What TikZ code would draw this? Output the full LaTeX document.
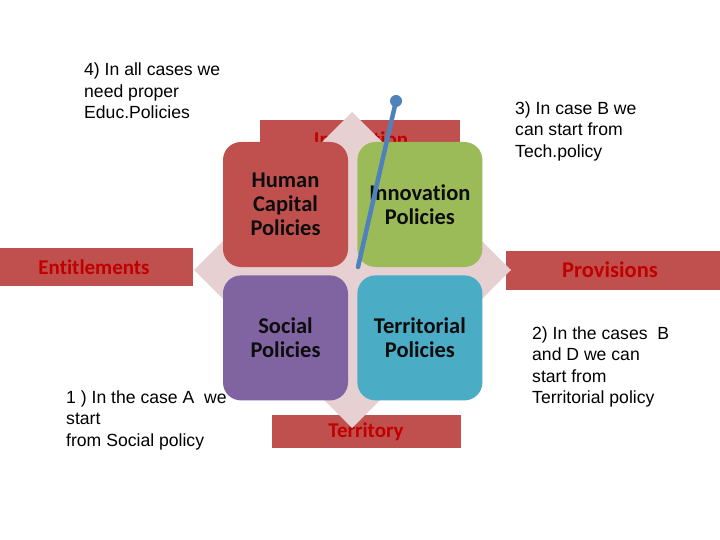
\documentclass[tikz,border=0pt]{standalone}
\usepackage{fontspec}
\setmainfont{Liberation Sans}
\newfontfamily\calib[Ligatures=NoCommon]{Carlito}
\usepackage{xcolor}
\usepackage{tikz}
\usetikzlibrary{positioning, calc}
\definecolor{banred}{HTML}{C0504D}
\definecolor{txtred}{HTML}{C00000}
\definecolor{diapink}{RGB}{230,208,209}
\definecolor{pgreen}{HTML}{9BBB59}
\definecolor{ppurple}{HTML}{8064A2}
\definecolor{pcyan}{HTML}{4BACC6}
\definecolor{pblue}{HTML}{4F81BD}

\begin{document}
\begin{tikzpicture}[
  x=1pt, y=-1pt,
  banner/.style={fill=banred, draw=none},
  bantext/.style={font=\calib\bfseries\fontsize{21}{23}\selectfont, text=txtred, inner sep=0pt},
  pbox/.style={rounded corners=18pt, minimum width=125pt, minimum height=125pt, inner sep=0pt,
    align=center, font=\calib\bfseries\fontsize{22.5}{24}\selectfont, text=black!95},
  note/.style={anchor=west, align=left, inner sep=0pt, font=\fontsize{17.6}{21.5}\selectfont},
  pin/.style={circle, fill=pblue, minimum size=12pt, inner sep=0pt},
  bluebar/.style={draw=pblue, line width=4.5pt, line cap=round},
]
\useasboundingbox (0,0) rectangle (720,540);
\fill[white] (0,0) rectangle (720,540);

% Banners round the matrix
\fill[banner] (260,120) rectangle (460,160);
\node[bantext] (innov) at (361,139) {Innovation};
\fill[banner] (0,248) rectangle (193,286);
\node[bantext] (entit) at (94,267) {Entitlements};
\fill[banner] (506,251) rectangle (720,290);
\node[bantext, font=\calib\bfseries\fontsize{22.5}{24}\selectfont] (provi) at (610,270) {Provisions};
\fill[banner] (272,415) rectangle (461,448);
\node[bantext] (terry) at (366,432) {Territory};

% Diamond behind the boxes
\fill[diapink] (352,112) -- (511,270) -- (352,428) -- (194,270) -- cycle;

% Policy matrix
\node[pbox, fill=banred] (hum) at (285.5,204.5) {Human\\Capital\\Policies};
\node[pbox, fill=pgreen, right=9pt of hum] (inn) {Innovation\\Policies};
\node[pbox, fill=ppurple, below=8pt of hum] (soc) {Social\\Policies};
\node[pbox, fill=pcyan, right=9pt of soc] (ter) {Territorial\\Policies};

% Blue pointer
\node[pin] (tip) at (396,101) {};
\coordinate (tipend) at (358,267);
\draw[bluebar] (tip.center) -- (tipend);

% Notes
\node[note] (n4) at (84,91) {4) In all cases we\\need proper\\Educ.Policies};
\node[note] (n3) at (515,131) {3) In case B we\\can start from\\Tech.policy};
\node[note] (n2) at (532,367) {2) In the cases\ \ B\\and D we can\\start from\\Territorial policy};
\node[note] (n1) at (66,420) {1 ) In the case A\ \ we\\start\\from Social policy};
\end{tikzpicture}
\end{document}
